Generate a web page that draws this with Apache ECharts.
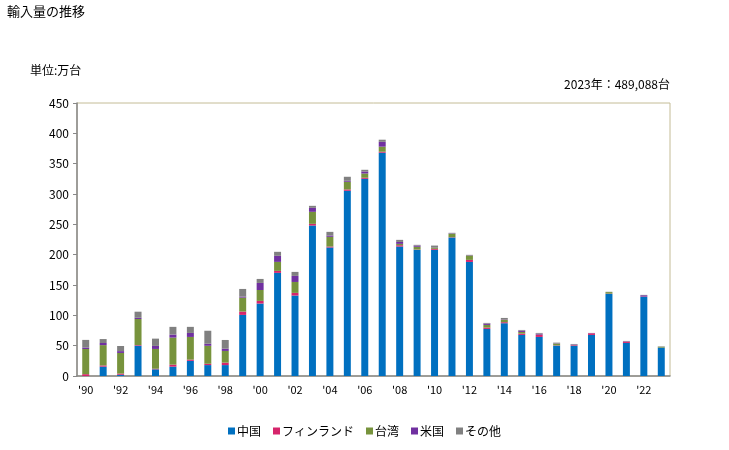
<!DOCTYPE html>
<html>
<head>
<meta charset="utf-8">
<script src="https://cdn.jsdelivr.net/npm/echarts@6/dist/echarts.min.js"></script>
<style>
  html, body { margin: 0; padding: 0; background: #fff; }
  #chart { width: 729px; height: 450px; }
</style>
</head>
<body>
<div id="chart"></div>
<script>
// years 1990 - 2023, unit: 万台
const years = ["'90", "'91", "'92", "'93", "'94", "'95", "'96", "'97", "'98", "'99",
  "'00", "'01", "'02", "'03", "'04", "'05", "'06", "'07", "'08", "'09",
  "'10", "'11", "'12", "'13", "'14", "'15", "'16", "'17", "'18", "'19",
  "'20", "'21", "'22", "'23"]

const china = [0, 15.4, 2, 50, 11, 15.4, 25, 18, 18, 100.7,
  119.4, 170, 132.6, 248, 211.8, 305.3, 325, 368, 213.4, 208,
  208, 228.3, 188, 77.6, 87, 67.7, 64.4, 50, 50, 67.7,
  135.3, 54.5, 130.4, 46.8]
const finland = [3, 2, 2, 1, 1, 3.3, 2, 2.2, 4, 5.5,
  4.4, 3.3, 4.4, 2.8, 1.6, 2.2, 1.8, 1.7, 2.2, 0.5,
  1.6, 0.5, 3.4, 2.2, 1.7, 2.2, 3.3, 0.5, 1, 2.7,
  0.5, 2.2, 0.5, 0]
const taiwan = [41.5, 33.5, 34, 43, 32.6, 44.6, 37.4, 29.6, 19.3, 23,
  18, 14.8, 18, 19.8, 16, 12.7, 7, 8.3, 2.2, 4.5,
  2.2, 5.5, 7.2, 4.4, 4.4, 2.7, 0.5, 3, 0.5, 0,
  2.5, 0, 0, 1.5]
const usa = [2.5, 3.5, 3, 2, 5, 5, 6.6, 3.4, 3.7, 1.7,
  11.6, 10, 10, 6.6, 2.2, 1.6, 3.3, 8, 3.2, 2,
  0.5, 0.6, 0.5, 2.2, 0.6, 2.2, 1.6, 0.5, 0.7, 0.3,
  0, 0.5, 2.2, 0.1]
const others = [12.5, 6.5, 8.5, 10, 12, 12.7, 10, 21.4, 14.4, 12.6,
  6.6, 6.6, 6.6, 3.3, 6, 6.6, 2.8, 3.5, 3.4, 1.2,
  2.7, 1.1, 0.6, 1.1, 2, 1.1, 1.2, 1, 0.6, 0.3,
  0.5, 0.6, 0.6, 0.5]

const seriesNames = ['中国', 'フィンランド', '台湾', '米国', 'その他']
const colors = ['#0070c0', '#d6246b', '#77933c', '#7030a0', '#808080']
const yTicks = { min: 0, max: 450, interval: 50 }

const font = '"Noto Sans CJK JP", sans-serif'

const chart = echarts.init(document.getElementById('chart'))

chart.setOption({
  animation: false,
  color: colors,
  textStyle: { fontFamily: font, color: '#000' },
  graphic: [
    { type: 'text', left: 7, top: 5, style: { text: '輸入量の推移', font: '13px ' + font, fill: '#000' } },
    { type: 'text', left: 30, top: 64, style: { text: '単位:万台', font: '12px ' + font, fill: '#000' } },
    { type: 'text', right: 59, top: 78, style: { text: '2023年：489,088台', font: '12px ' + font, fill: '#000', textAlign: 'right' } }
  ],
  legend: {
    bottom: 8,
    left: 'center',
    itemWidth: 7,
    itemHeight: 7,
    itemGap: 12,
    icon: 'rect',
    textStyle: { fontSize: 12, fontFamily: font, color: '#000', padding: [0, 0, 0, -3] },
    data: seriesNames
  },
  grid: {
    left: 77,
    right: 59,
    top: 103,
    bottom: 74,
    show: true,
    borderColor: '#c4bc96',
    borderWidth: 1
  },
  xAxis: {
    type: 'category',
    data: years,
    axisLine: { lineStyle: { color: '#888', width: 1.5 } },
    axisTick: { show: false },
    axisLabel: { interval: 1, color: '#000', fontSize: 11, margin: 8 }
  },
  yAxis: {
    type: 'value',
    min: yTicks.min,
    max: yTicks.max,
    interval: yTicks.interval,
    splitLine: { show: false },
    axisLine: { show: true, lineStyle: { color: '#888', width: 1.5 } },
    axisTick: { show: true, length: 4, lineStyle: { color: '#888' } },
    axisLabel: { color: '#000', fontSize: 12, margin: 8 }
  },
  series: [china, finland, taiwan, usa, others].map((d, i) => ({
    name: seriesNames[i],
    type: 'bar',
    stack: 'total',
    barWidth: '40%',
    data: d
  }))
})
</script>
</body>
</html>
